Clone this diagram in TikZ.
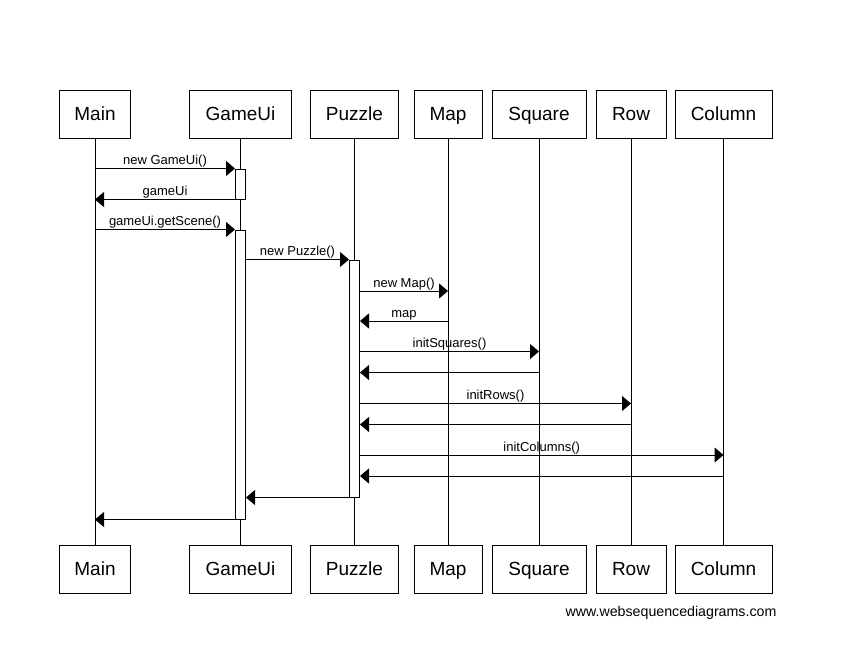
\documentclass[tikz,border=0pt]{standalone}
\usepackage{fontspec}
\setmainfont{Liberation Sans}
\usetikzlibrary{arrows.meta}
\tikzset{
  actor/.style={draw, line width=1pt, minimum height=48pt, inner sep=0pt, text height=14pt, text depth=2pt, font=\fontsize{19}{22}\selectfont, fill=white},
  life/.style={line width=1pt},
  actbar/.style={draw, line width=1pt, fill=white, minimum width=10pt, inner sep=0pt},
  msg/.style={line width=1pt, -{Triangle[length=9pt,width=15pt]}},
  lbl/.style={font=\fontsize{13}{15}\selectfont, inner sep=0pt, anchor=base, yshift=4pt},
}
\begin{document}
\begin{tikzpicture}[x=1pt,y=-1pt]
\useasboundingbox (0,0) rectangle (842,659);
% top actors
\node[actor, minimum width=71pt] (mainT) at (95,114.5) {Main};
\node[actor, minimum width=102pt] (guiT) at (240.5,114.5) {GameUi};
\node[actor, minimum width=88pt] (puzT) at (354.5,114.5) {Puzzle};
\node[actor, minimum width=68pt] (mapT) at (448,114.5) {Map};
\node[actor, minimum width=94pt] (sqT) at (539,114.5) {Square};
\node[actor, minimum width=70pt] (rowT) at (631,114.5) {Row};
\node[actor, minimum width=97pt] (colT) at (723.5,114.5) {Column};
% bottom actors
\node[actor, minimum width=71pt] (mainB) at (95,569.5) {Main};
\node[actor, minimum width=102pt] (guiB) at (240.5,569.5) {GameUi};
\node[actor, minimum width=88pt] (puzB) at (354.5,569.5) {Puzzle};
\node[actor, minimum width=68pt] (mapB) at (448,569.5) {Map};
\node[actor, minimum width=94pt] (sqB) at (539,569.5) {Square};
\node[actor, minimum width=70pt] (rowB) at (631,569.5) {Row};
\node[actor, minimum width=97pt] (colB) at (723.5,569.5) {Column};
% lifelines
\foreach \a in {main,gui,puz,map,sq,row,col}{
  \draw[life] (\a T.south) -- (\a B.north);
}
% activations
\node[actbar, minimum height=30pt] (act1) at (240.5,184) {};
\node[actbar, minimum height=289pt] (act2) at (240.5,374.5) {};
\node[actbar, minimum height=237pt] (act3) at (354.5,378.5) {};
% y levels
\coordinate (y5) at (0,291);
\coordinate (y6) at (0,321);
\coordinate (y7) at (0,351.5);
\coordinate (y8) at (0,372.5);
\coordinate (y9) at (0,403.5);
\coordinate (y10) at (0,424.5);
\coordinate (y11) at (0,455);
\coordinate (y12) at (0,476);
% messages
\draw[msg] (mainT.south |- act1.north west) -- (act1.north west)
  node[lbl, pos=0.5] {new GameUi()};
\draw[msg] (act1.south west) -- (mainT.south |- act1.south west)
  node[lbl, pos=0.5] {gameUi};
\draw[msg] (mainT.south |- act2.north west) -- (act2.north west)
  node[lbl, pos=0.5] {gameUi.getScene()};
\draw[msg] (act2.east |- act3.north west) -- (act3.north west)
  node[lbl, pos=0.5] {new Puzzle()};
\draw[msg] (act3.east |- y5) -- (mapT.south |- y5)
  node[lbl, pos=0.5] {new Map()};
\draw[msg] (mapT.south |- y6) -- (act3.east |- y6)
  node[lbl, pos=0.5] {map};
\draw[msg] (act3.east |- y7) -- (sqT.south |- y7)
  node[lbl, pos=0.5] {initSquares()};
\draw[msg] (sqT.south |- y8) -- (act3.east |- y8);
\draw[msg] (act3.east |- y9) -- (rowT.south |- y9)
  node[lbl, pos=0.5] {initRows()};
\draw[msg] (rowT.south |- y10) -- (act3.east |- y10);
\draw[msg] (act3.east |- y11) -- (colT.south |- y11)
  node[lbl, pos=0.5] {initColumns()};
\draw[msg] (colT.south |- y12) -- (act3.east |- y12);
\draw[msg] (act3.south west) -- (act2.east |- act3.south west);
\draw[msg] (act2.south west) -- (mainT.south |- act2.south west);
% footer
\node[font=\fontsize{14.2}{16}\selectfont, inner sep=0pt] (footer) at (671,613) {www.websequencediagrams.com};
\end{tikzpicture}
\end{document}
